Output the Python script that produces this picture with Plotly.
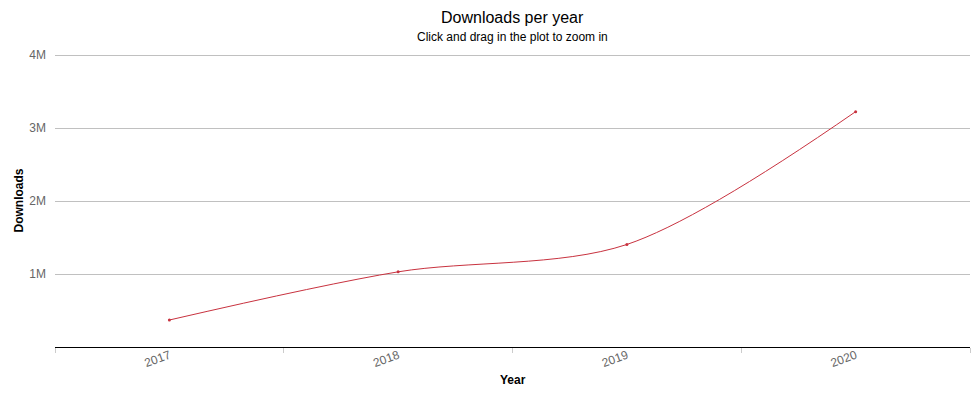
import plotly.graph_objects as go

years = ["2017", "2018", "2019", "2020"]
downloads = [370000, 1030000, 1405000, 3225000]

y_ticks = [1000000, 2000000, 3000000, 4000000]
y_labels = ["1M", "2M", "3M", "4M"]

# the page body adds an 8px margin, so the figure is 16px smaller than the window
fig_w = 964
fig_h = 384
m_l, m_r, m_t, m_b = 47, 2, 46, 45
plot_w = float(fig_w - m_l - m_r)
plot_h = float(fig_h - m_t - m_b)

trace = go.Scatter(
    x=years,
    y=downloads,
    mode="lines+markers",
    line=dict(color="#c8323f", width=1, shape="spline", smoothing=0.9),
    marker=dict(color="#c8323f", size=3),
    hoverinfo="x+y",
)

layout = go.Layout(
    width=fig_w,
    height=fig_h,
    paper_bgcolor="white",
    plot_bgcolor="white",
    font=dict(family="Liberation Sans, Arial, sans-serif", color="#666666", size=11),
    margin=dict(l=m_l, r=m_r, t=m_t, b=m_b, autoexpand=False),
    showlegend=False,
    xaxis=dict(
        type="category",
        range=[-0.5, 3.5],
        automargin=False,
        showgrid=False,
        showline=True,
        linecolor="#000000",
        linewidth=1,
        ticks="outside",
        tickson="boundaries",
        ticklen=5,
        tickcolor="#cccccc",
        tickangle=-20,
        ticklabelstandoff=-4,
        tickfont=dict(size=12, color="#666666"),
    ),
    yaxis=dict(
        range=[0, 4015000],
        automargin=False,
        tickvals=y_ticks,
        ticktext=y_labels,
        showgrid=True,
        gridcolor="#c0c0c0",
        gridwidth=1,
        zeroline=False,
        showline=False,
        ticks="",
        ticklabelstandoff=8,
        tickfont=dict(size=12, color="#666666"),
    ),
    annotations=[
        dict(text="Downloads per year", xref="paper", yref="paper",
             x=0.5, y=1 + (m_t - 10) / plot_h, xanchor="center", yanchor="middle",
             showarrow=False, font=dict(size=16, color="#000000")),
        dict(text="Click and drag in the plot to zoom in", xref="paper", yref="paper",
             x=0.5, y=1 + (m_t - 29) / plot_h, xanchor="center", yanchor="middle",
             showarrow=False, font=dict(size=12, color="#000000")),
        dict(text="<b>Year</b>", xref="paper", yref="paper",
             x=0.5, y=-(372 - (fig_h - m_b)) / plot_h, xanchor="center", yanchor="middle",
             showarrow=False, font=dict(size=12, color="#000000")),
        dict(text="<b>Downloads</b>", xref="paper", yref="paper",
             x=(10 - m_l) / plot_w, y=0.5, xanchor="center", yanchor="middle",
             textangle=-90, showarrow=False, font=dict(size=12, color="#000000")),
    ],
)

fig = go.Figure(data=[trace], layout=layout)
fig.write_html("out.html")
